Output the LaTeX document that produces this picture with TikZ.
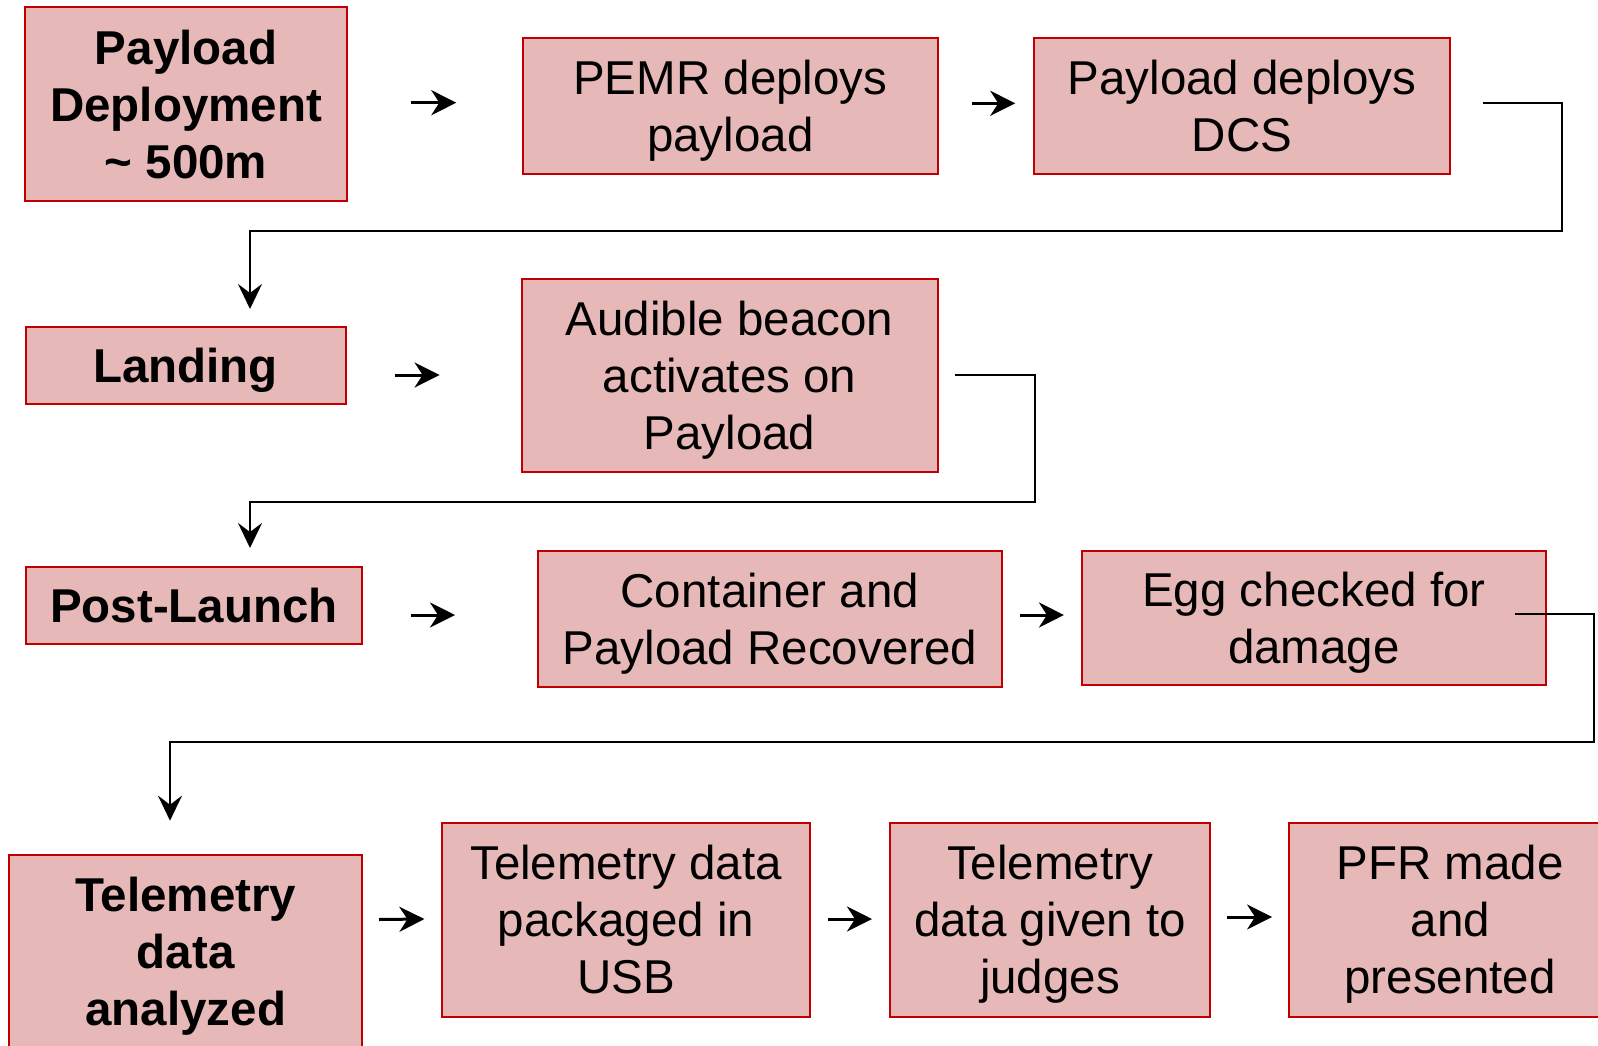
\documentclass[tikz,border=0pt]{standalone}
\usepackage{fontspec}
\setmainfont{Liberation Sans}
\usetikzlibrary{arrows.meta,calc}

\definecolor{boxfill}{HTML}{E6B8B7}
\definecolor{boxline}{HTML}{C00000}

% struts so that every box centres on the cap height of its lines
\newcommand{\capup}{\rule{0pt}{0.94em}}
\newcommand{\capdn}{\rule[-0.22em]{0pt}{0.22em}}

\tikzset{
  box/.style={draw=boxline, fill=boxfill, line width=2pt, align=center,
    inner sep=0pt, font=\fontsize{47.5}{57}\selectfont},
  boldbox/.style={box, font=\fontsize{47.5}{57}\selectfont\bfseries},
  flowarrow/.style={line width=3pt, -{Stealth[length=25pt,width=25pt,inset=8pt]}},
  elbow/.style={line width=2pt, -{Stealth[length=25pt,width=24pt,inset=9pt]}},
}

\begin{document}
\begin{tikzpicture}[x=1pt,y=-1pt]
\clip (0,0) rectangle (1598,1046);
\fill[white] (0,0) rectangle (1598,1046);

% row 1
\node[boldbox, minimum width=321.4pt, minimum height=194.6pt] (dep) at (186,104)
  {\capup Payload\\Deployment\\\textasciitilde{} 500m\capdn};
\node[box, minimum width=415pt, minimum height=136pt] (pemr) at (730.3,106.3)
  {\capup PEMR deploys\\payload\capdn};
\node[box, minimum width=415.7pt, minimum height=136pt] (dcs) at (1241.9,106.3)
  {\capup Payload deploys\\DCS\capdn};

% row 2
\node[boldbox, minimum width=320pt, minimum height=77.6pt] (land) at (185.5,365.5)
  {\capup Landing\capdn};
\node[box, minimum width=416pt, minimum height=193.3pt] (beacon) at (729.6,375.7)
  {\capup Audible beacon\\activates on\\Payload\capdn};

% row 3
\node[boldbox, minimum width=336pt, minimum height=77.6pt] (post) at (194,605.5)
  {\capup Post-Launch\capdn};
\node[box, minimum width=463.8pt, minimum height=135.7pt] (cont) at (769.9,618.9)
  {\capup Container and\\Payload Recovered\capdn};
\node[box, minimum width=464.3pt, minimum height=134.6pt] (egg) at (1313.9,618)
  {\capup Egg checked for\\damage\capdn};

% row 4
\node[boldbox, minimum width=353pt, minimum height=193pt] (tel) at (185.8,951.5)
  {\capup Telemetry\\data\\analyzed\capdn};
\node[box, minimum width=368pt, minimum height=194pt] (usb) at (626,919.7)
  {\capup Telemetry data\\packaged in\\USB\capdn};
\node[box, minimum width=320.8pt, minimum height=194pt] (judges) at (1050,919.7)
  {\capup Telemetry\\data given to\\judges\capdn};
\node[box, minimum width=321.7pt, minimum height=194pt] (pfr) at (1450.2,919.7)
  {\capup PFR made\\and\\presented\capdn};

% short arrows between neighbouring steps
\draw[flowarrow] ($(dep.east)+(63.3,-1.3)$) -- ($(pemr.west)+(-65.5,-3.6)$);
\draw[flowarrow] ($(pemr.east)+(32.8,-3)$) -- ($(dcs.west)+(-17.8,-3)$);
\draw[flowarrow] ($(land.east)+(48.3,9.5)$) -- ($(beacon.west)+(-81,-0.7)$);
\draw[flowarrow] ($(post.east)+(48.4,9.5)$) -- ($(cont.west)+(-82,-3.9)$);
\draw[flowarrow] ($(cont.east)+(16.8,-3.9)$) -- ($(egg.west)+(-16.8,-3)$);
\draw[flowarrow] ($(tel.east)+(15.7,-32)$) -- ($(usb.west)+(-16.6,-0.7)$);
\draw[flowarrow] ($(usb.east)+(16.6,-0.7)$) -- ($(judges.west)+(-16.6,-0.7)$);
\draw[flowarrow] ($(judges.east)+(15.6,-2.7)$) -- ($(pfr.west)+(-16.3,-2.7)$);

% return lines to the start of the next row
\coordinate (t1) at (1562.3,230.7);
\coordinate (t2) at (1034.6,502.3);
\coordinate (t3) at (1594,742);
\draw[elbow] ($(dcs.east)+(32,-3.6)$) -| (t1) -| ($(land.north)+(64.5,-16.7)$);
\draw[elbow] ($(beacon.east)+(16.8,-0.7)$) -| (t2) -| ($(post.north)+(56,-17.7)$);
\draw[elbow] ($(egg.east)+(-32,-3.7)$) -| (t3) -| ($(tel.north)+(-15.8,-33.3)$);
\end{tikzpicture}
\end{document}
